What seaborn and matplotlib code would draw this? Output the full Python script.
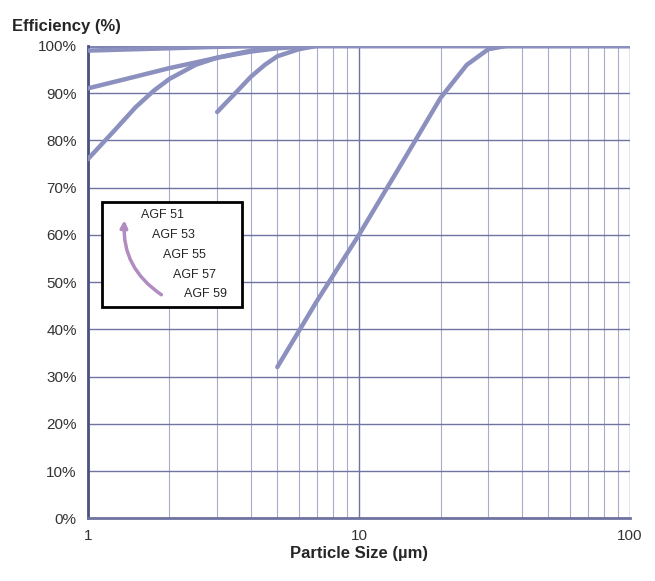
import pandas as pd
import matplotlib.pyplot as plt
import seaborn as sns
from matplotlib.patches import Rectangle, FancyArrowPatch
from matplotlib.ticker import FixedLocator, NullFormatter, FuncFormatter

# particle size (um) and efficiency (%) for each grade
agf51_x = [1, 1.5, 2, 2.5, 3, 4, 5, 7, 100]
agf51_y = [91, 93.5, 95.3, 96.5, 97.5, 98.8, 99.5, 100, 100]
agf53_x = [1, 1.25, 1.5, 1.75, 2, 2.5, 3, 4, 5, 6, 100]
agf53_y = [76, 82, 87, 90.5, 93, 96, 97.5, 99, 99.6, 100, 100]
agf55_x = [3, 3.5, 4, 4.5, 5, 6, 7, 100]
agf55_y = [86, 90, 93.5, 96, 97.8, 99.3, 100, 100]
agf57_x = [1, 2, 3, 5, 100]
agf57_y = [99, 99.5, 99.8, 100, 100]
agf59_x = [5, 7, 10, 14, 20, 25, 30, 35, 100]
agf59_y = [32, 46, 60, 74, 89, 96, 99.3, 100, 100]
grades = ['AGF 51', 'AGF 53', 'AGF 55', 'AGF 57', 'AGF 59']

frames = []
for name, xs, ys in zip(grades,
                        [agf51_x, agf53_x, agf55_x, agf57_x, agf59_x],
                        [agf51_y, agf53_y, agf55_y, agf57_y, agf59_y]):
    frames.append(pd.DataFrame({'size': xs, 'eff': ys, 'grade': name}))
df = pd.concat(frames, ignore_index=True)

sns.set_theme(style="white")
plt.rcParams['font.family'] = ['Liberation Sans', 'DejaVu Sans']

fig = plt.figure(figsize=(6.55, 5.81), dpi=100)
ax = fig.add_axes([0.134, 0.108, 0.828, 0.813])

line_col = '#8c90bf'
grid_col = '#a7abcc'

sns.lineplot(data=df, x='size', y='eff', hue='grade', sort=False,
             palette=[line_col] * 5, linewidth=3.2, legend=False, ax=ax,
             zorder=3)

ax.set_xscale('log')
ax.set_xlim(1, 100)
ax.set_ylim(0, 100)

ax.xaxis.set_major_locator(FixedLocator([1, 10, 100]))
minor = [m * d for d in (1, 10) for m in range(2, 10)]
ax.xaxis.set_minor_locator(FixedLocator(minor))
ax.xaxis.set_minor_formatter(NullFormatter())
ax.xaxis.set_major_formatter(FuncFormatter(lambda v, p: f'{v:g}'))
ax.set_yticks(range(0, 101, 10))
ax.yaxis.set_major_formatter(FuncFormatter(lambda v, p: f'{v:.0f}%'))

ax.grid(True, which='major', color='#6f73a0', linewidth=1.0)
ax.grid(True, which='minor', axis='x', color=grid_col, linewidth=0.8)
ax.set_axisbelow(True)

for s in ax.spines.values():
    s.set_visible(False)
ax.spines['left'].set_visible(True)
ax.spines['left'].set_color('#4d5180')
ax.spines['left'].set_linewidth(2)
ax.spines['bottom'].set_visible(True)
ax.spines['bottom'].set_color('#6f73a0')
ax.spines['bottom'].set_linewidth(2)
ax.axhline(100, color='#7f84b4', linewidth=3, zorder=2)

ax.tick_params(axis='both', which='both', length=0, labelsize=11,
               colors='#333333', pad=8)
ax.set_xlabel('Particle Size (µm)', fontsize=12, fontweight='bold', labelpad=2)
ax.set_ylabel('')
fig.text(0.018, 0.955, 'Efficiency (%)', fontsize=12, fontweight='bold',
         ha='left', va='center')

# legend box with staggered labels and arrow
box = Rectangle((0.027, 0.447), 0.258, 0.222, transform=ax.transAxes,
                facecolor='white', edgecolor='black', linewidth=2, zorder=5)
ax.add_patch(box)
for i, g in enumerate(grades):
    ax.text(0.098 + i * 0.02, 0.642 - i * 0.042, g, transform=ax.transAxes,
            fontsize=9, ha='left', va='center', zorder=6)
arrow = FancyArrowPatch((0.14, 0.47), (0.068, 0.637), transform=ax.transAxes,
                        connectionstyle='arc3,rad=-0.3', arrowstyle='-|>',
                        mutation_scale=10, color='#b08cc0', linewidth=2.5,
                        zorder=6)
ax.add_patch(arrow)

fig.savefig('out.png', dpi=100)
